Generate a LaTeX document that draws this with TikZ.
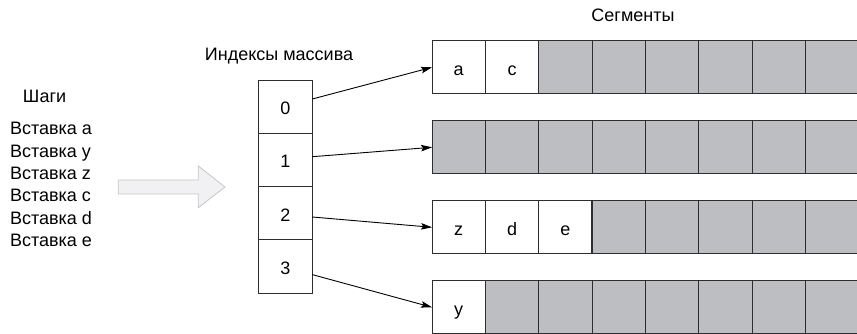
\documentclass[tikz,border=0pt]{standalone}
\usepackage{fontspec}
\setmainfont{Liberation Sans}
\usetikzlibrary{positioning,arrows.meta}
\definecolor{slotgray}{RGB}{189,190,194}
\definecolor{linegray}{RGB}{45,45,45}
\definecolor{hintfill}{RGB}{241,241,243}
\definecolor{hintline}{RGB}{198,198,200}
\tikzset{
  >={Stealth[length=11pt,width=6.5pt,inset=2pt]},
  every node/.style={font=\fontsize{18}{22}\selectfont, inner sep=0pt, outer sep=0pt},
  cell/.style={draw=linegray, line width=1pt, minimum width=53.3pt, minimum height=53.3pt,
    text height=15.6pt, text depth=0pt},
  slot/.style={cell, fill=slotgray},
  key/.style={cell, fill=white},
  index/.style={cell, minimum width=54pt},
  ptr/.style={->, line width=0.9pt},
}

\begin{document}
\begin{tikzpicture}[x=1pt, y=-1pt]
  \useasboundingbox (0,0) rectangle (857,334);

  % steps
  \node[anchor=base west] (steps) at (23,102.3) {Шаги};
  \foreach \k/\t in {0/a,1/y,2/z,3/c,4/d,5/e}
    \node[anchor=base west] (ins\t) at (10,{135+22.3*\k}) {Вставка \t};

  % big hollow arrow
  \draw[hintline, fill=hintfill, line width=0.8pt]
    (118.3,180) -- (198.3,180) -- (198.3,166) -- (225,187)
    -- (198.3,207.7) -- (198.3,194) -- (118.3,194) -- cycle;

  % array of indexes
  \node[anchor=base] (arrtitle) at (279,60.7) {Индексы массива};
  \node[index] (i0) at (285.3,106.7) {0};
  \node[index, below=0pt of i0] (i1) {1};
  \node[index, below=0pt of i1] (i2) {2};
  \node[index, below=0pt of i2] (i3) {3};

  % buckets
  \node[anchor=base] (segtitle) at (633,22) {Сегменты};
  \foreach \r/\y/\n in {0/67.3/2, 1/147.3/0, 2/227.3/3, 3/307.3/1}
    \foreach \c in {\n,...,7}
      \node[slot] (b\r\c) at ({458.7+53.33*\c},\y) {};
  \node[key] (b00) at (458.7,67.3) {a};
  \node[key, right=0pt of b00] (b01) {c};
  \node[key] (b20) at (458.7,227.3) {z};
  \node[key, right=0pt of b20] (b21) {d};
  \node[key, right=0pt of b21] (b22) {e};
  \node[key] (b30) at (458.7,307.3) {y};

  % pointers
  \draw[ptr] ([yshift=7.7pt]i0.east) -- (b00.west);
  \draw[ptr] ([yshift=3.3pt]i1.east) -- (b10.west);
  \draw[ptr] ([yshift=-3.7pt]i2.east) -- (b20.west);
  \draw[ptr] ([yshift=-8pt]i3.east) -- (b30.west);
\end{tikzpicture}
\end{document}
